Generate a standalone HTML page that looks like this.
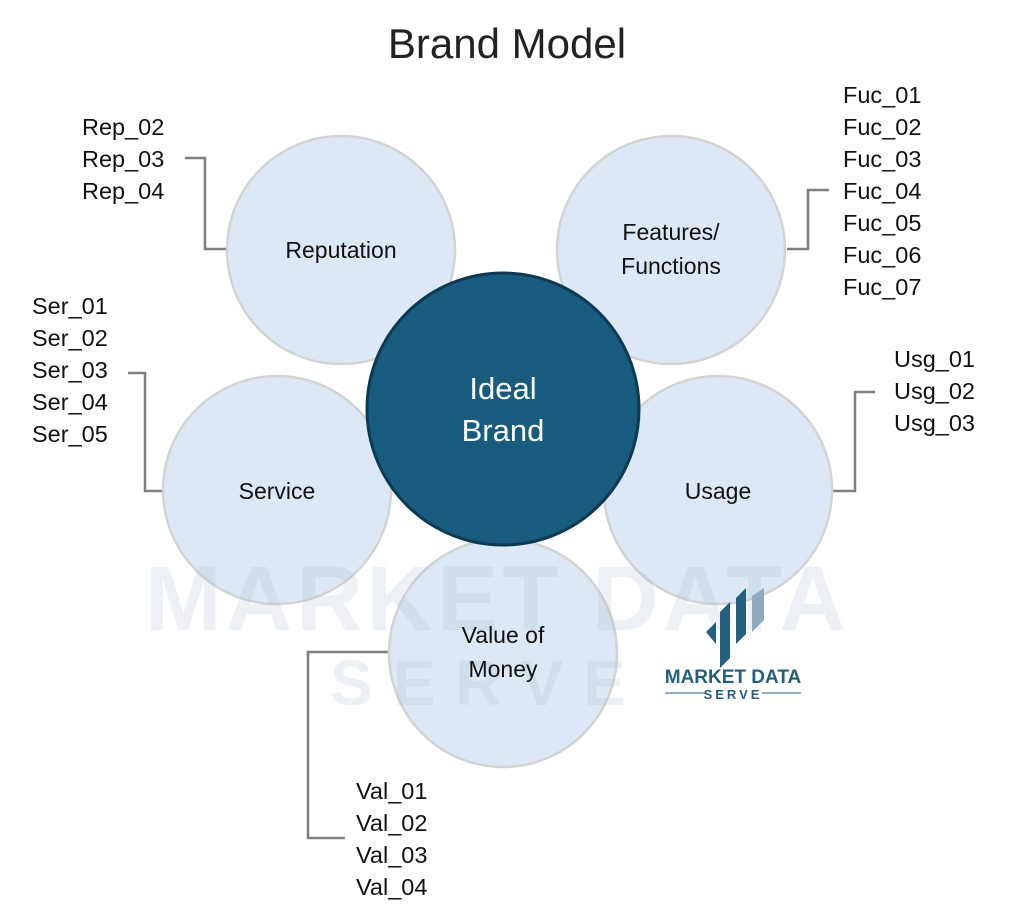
<!DOCTYPE html>
<html><head><style>
body{margin:0;background:#fff;}
svg{display:block;font-family:"Liberation Sans",sans-serif;}
</style></head><body>
<svg width="1024" height="920" viewBox="0 0 1024 920">
<text x="507" y="58" font-size="42" text-anchor="middle" fill="#222">Brand Model</text>
<g fill="none" stroke="#7f7f7f" stroke-width="2.5">
<polyline points="185,158 205,158 205,249 227,249"/>
<polyline points="829,190 808,190 808,249 787,249"/>
<polyline points="128,373 145,373 145,491 163,491"/>
<polyline points="832,491 855,491 855,392 875,392"/>
<polyline points="389,652 308,652 308,838 345,838"/>
</g>
<g fill="#dce8f5" stroke="#d3d3d3" stroke-width="2.5">
<circle cx="341" cy="250" r="114"/>
<circle cx="671" cy="250" r="114"/>
<circle cx="277" cy="490" r="114"/>
<circle cx="718" cy="490" r="114"/>
<circle cx="503" cy="653" r="114"/>
</g>
<g fill="#9fb6c9" opacity="0.18" font-size="92" font-weight="bold">
<text x="145" y="630" letter-spacing="4">MARKET DATA</text>
<text x="330" y="705" font-size="64" letter-spacing="20">SERVE</text>
</g>
<circle cx="503" cy="409" r="136" fill="#175c7e" stroke="#0d3a52" stroke-width="3"/>
<g font-size="23" fill="#111" text-anchor="middle">
<text x="341" y="258">Reputation</text>
<text x="671" y="240">Features/</text>
<text x="671" y="274">Functions</text>
<text x="277" y="499">Service</text>
<text x="718" y="499">Usage</text>
<text x="503" y="643">Value of</text>
<text x="503" y="677">Money</text>
</g>
<g font-size="31" fill="#fff" text-anchor="middle">
<text x="503" y="399">Ideal</text>
<text x="503" y="441">Brand</text>
</g>
<g font-size="23.5" fill="#111">
<text x="82" y="135">Rep_02</text><text x="82" y="167">Rep_03</text><text x="82" y="199">Rep_04</text>
<text x="843" y="103">Fuc_01</text><text x="843" y="135">Fuc_02</text><text x="843" y="167">Fuc_03</text><text x="843" y="199">Fuc_04</text><text x="843" y="231">Fuc_05</text><text x="843" y="263">Fuc_06</text><text x="843" y="295">Fuc_07</text>
<text x="32" y="314">Ser_01</text><text x="32" y="346">Ser_02</text><text x="32" y="378">Ser_03</text><text x="32" y="410">Ser_04</text><text x="32" y="442">Ser_05</text>
<text x="894" y="367">Usg_01</text><text x="894" y="399">Usg_02</text><text x="894" y="431">Usg_03</text>
<text x="356" y="799">Val_01</text><text x="356" y="831">Val_02</text><text x="356" y="863">Val_03</text><text x="356" y="895">Val_04</text>
</g>
<g>
<polygon points="716,622 706,632 716,644" fill="#235f7e"/>
<polygon points="720,612 730,602 730,658 720,668" fill="#235f7e"/>
<polygon points="736,598 746,588 746,634 736,644" fill="#235f7e"/>
<polygon points="752,596 764,588 764,620 752,632" fill="#8eaabd"/>
<text x="733" y="683" font-size="19" font-weight="bold" fill="#235f7e" text-anchor="middle">MARKET DATA</text>
<text x="733" y="699" font-size="13" font-weight="bold" fill="#235f7e" text-anchor="middle" letter-spacing="3">SERVE</text>
<line x1="665" y1="693" x2="706" y2="693" stroke="#235f7e" stroke-width="1"/>
<line x1="762" y1="693" x2="801" y2="693" stroke="#235f7e" stroke-width="1"/>
</g>
</svg>
</body></html>
